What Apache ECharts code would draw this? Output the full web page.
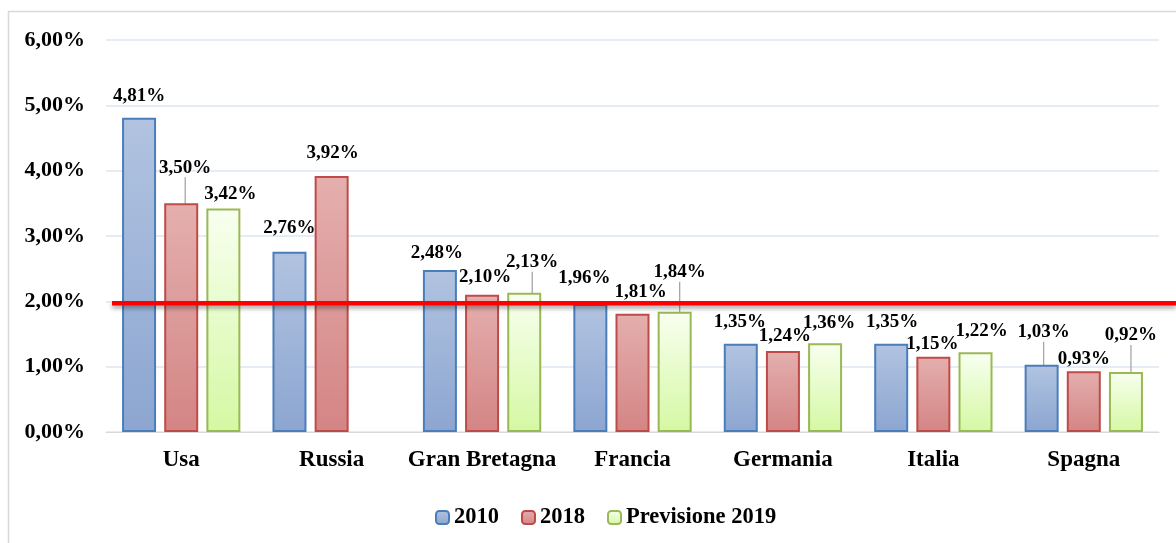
<!DOCTYPE html>
<html><head><meta charset="utf-8">
<script src="https://cdn.jsdelivr.net/npm/echarts@6/dist/echarts.min.js"></script>
<style>html,body{margin:0;padding:0;background:#fff}#c{width:1176px;height:543px}</style>
</head><body><div id="c"></div>
<script>
const categories = ['Usa','Russia','Gran Bretagna','Francia','Germania','Italia','Spagna'];
const seriesNames = ['2010','2018','Previsione 2019'];
const values2010 = [4.81, 2.76, 2.48, 1.96, 1.35, 1.35, 1.03];
const values2018 = [3.50, 3.92, 2.10, 1.81, 1.24, 1.15, 0.93];
const values2019 = [3.42, null, 2.13, 1.84, 1.36, 1.22, 0.92];
const yTicks = [0,1,2,3,4,5,6];
const referenceLine = 1.97;

// label layout (offsets in px relative to default top position) and leader lines
const labelDx = [[0,0,-3,-6,-1,1,2],[4,1,3,8,2,-1,0],[7,0,8,5,4,6,5]];
const labelDy = [[-7,-9,-2,-11,-7,-7,-18],[-21,-8,-3,-7,0,2,2],[0,0,-16,-25,-6,-7,-22]];
const leader = [[0,0,0,0,0,0,1],[1,0,0,0,0,0,0],[0,0,1,1,0,0,1]];

const fmt = v => v.toFixed(2).replace('.', ',') + '%';
const serif = '"Liberation Serif", "DejaVu Serif", serif';

const styles = [
  {top:'#B1C3E0', bottom:'#8CA6D1', border:'#4A7EBB'},
  {top:'#E4AFAE', bottom:'#D38584', border:'#BE4B48'},
  {top:'#F8FFF0', bottom:'#D5F8A3', border:'#98B954'}
];
const allValues = [values2010, values2018, values2019];

const series = allValues.map((vals, si) => ({
  name: seriesNames[si],
  type: 'bar',
  barWidth: 34,
  barGap: '24%',
  barCategoryGap: '21%',
  itemStyle: {
    color: new echarts.graphic.LinearGradient(0,0,0,1,[{offset:0,color:styles[si].top},{offset:1,color:styles[si].bottom}]),
    borderColor: styles[si].border,
    borderWidth: 2
  },
  label: {
    show: true, position: 'top', distance: 5,
    formatter: p => fmt(p.value),
    fontFamily: serif, fontWeight: 'bold', fontSize: 19, color: '#000'
  },
  labelLine: {show: false, lineStyle: {color: '#A6A6A6', width: 1.3}},
  labelLayout: p => ({dx: labelDx[si][p.dataIndex], dy: labelDy[si][p.dataIndex]}),
  data: vals.map((v, i) => ({
    value: v,
    labelLine: {show: !!leader[si][i], lineStyle: {color: '#A6A6A6', width: 1.3}}
  }))
}));

const chart = echarts.init(document.getElementById('c'));
chart.setOption({
  animation: false,
  backgroundColor: '#fff',
  grid: {left: 106, right: 17, top: 40, bottom: 111, containLabel: false},
  legend: {
    data: seriesNames, left: 430, top: 501, itemWidth: 13, itemHeight: 13, itemGap: 22,
    textStyle: {fontFamily: serif, fontWeight: 'bold', fontSize: 22.5, color: '#000'}
  },
  xAxis: {
    type: 'category', data: categories,
    axisTick: {show: false},
    axisLine: {lineStyle: {color: '#D9D9D9', width: 1}},
    axisLabel: {interval: 0, fontFamily: serif, fontWeight: 'bold', fontSize: 23, color: '#000', margin: 17}
  },
  yAxis: {
    type: 'value', min: yTicks[0], max: yTicks[yTicks.length-1], interval: 1,
    axisLine: {show: false}, axisTick: {show: false},
    splitLine: {lineStyle: {color: '#DCE6F2', width: 1.5}},
    axisLabel: {fontFamily: serif, fontWeight: 'bold', fontSize: 22, color: '#000', margin: 21,
      formatter: v => v.toFixed(2).replace('.', ',') + '%'}
  },
  series: series
});

const yPix = chart.convertToPixel({yAxisIndex: 0}, referenceLine);
chart.setOption({
  graphic: [
    {type: 'rect', shape: {x: 8.5, y: 11.5, width: 1300, height: 700}, style: {fill: null, stroke: '#D9D9D9', lineWidth: 1.5}, silent: true, z: 0},
    {type: 'line', shape: {x1: 112, y1: yPix, x2: 1176, y2: yPix},
     style: {stroke: '#FF0000', lineWidth: 4.5, shadowBlur: 4, shadowOffsetY: 3, shadowColor: 'rgba(0,0,0,0.35)'}, z: 100}
  ]
});
</script>
</body></html>
